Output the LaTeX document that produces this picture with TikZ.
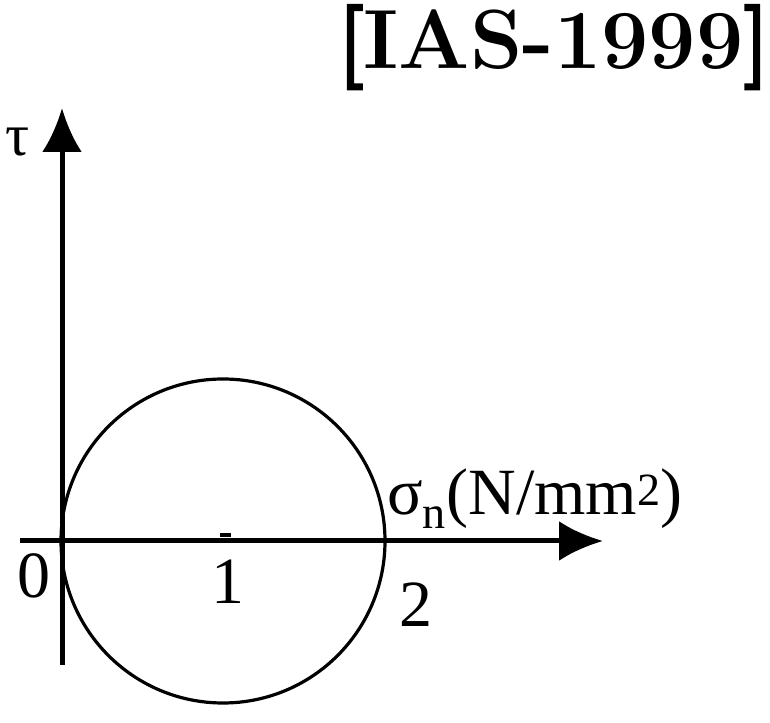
\documentclass[tikz,border=0pt]{standalone}
\usepackage{fontspec}
\usetikzlibrary{arrows.meta,positioning}
\newfontfamily\labelfont{Liberation Serif}
\newfontfamily\brkfont{Latin Modern Roman}[BoldFeatures={FakeBold=3}]

\begin{document}
\begin{tikzpicture}[x=1pt, y=1pt, >={Latex[length=44pt,width=40pt]},
  axis/.style={line width=5pt},
  every node/.style={font=\labelfont\fontsize{66}{68}\selectfont, inner sep=0pt}]
\useasboundingbox (0,0) rectangle (770,722);
% axes
\coordinate (vbot) at (62,57);
\coordinate (vtop) at (62,614);
\coordinate (hleft) at (20,181);
\coordinate (hright) at (603,181);
\draw[->, axis] (vbot) -- (vtop);
\draw[->, axis] (hleft) -- (hright);
% Mohr circle
\coordinate (ctr) at (223,181);
\draw[line width=3.2pt] (ctr) circle (162);
\node[fill, minimum width=11pt, minimum height=4pt] (dot) at (225,187) {};
% labels
\node[font=\labelfont\fontsize{60}{62}\selectfont] (tau) at (18,580) {τ};
\node[anchor=base west] (sig) at (387,207) {σ\textsubscript{n}(N/mm\textsuperscript{2})};
\node (zero) at (34,146) {0};
\node (one) at (228,140) {1};
\node (two) at (416,117) {2};
\node[anchor=north east, font=\bfseries\fontsize{84}{84}\selectfont] (year) at (770,717)
  {{\brkfont[}IAS-1999{\brkfont]}};
\end{tikzpicture}
\end{document}
